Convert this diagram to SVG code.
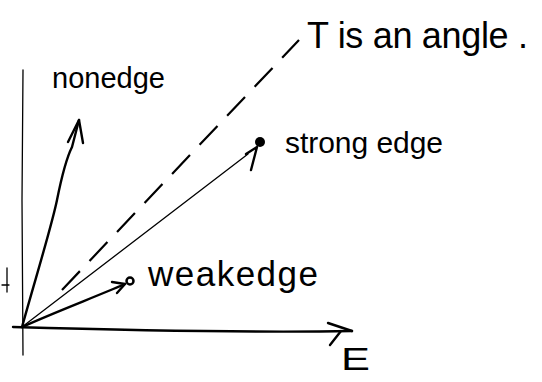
<svg xmlns="http://www.w3.org/2000/svg" width="542" height="382" viewBox="0 0 542 382">
<style>
.ln{fill:none;stroke:#000;stroke-width:2.4;stroke-linecap:round;stroke-linejoin:round}
.thin{fill:none;stroke:#000;stroke-width:1.3;stroke-linecap:round}
.dash{fill:none;stroke:#000;stroke-width:2.2;stroke-dasharray:26 14}
.t{font-family:"Liberation Sans",Arial,sans-serif;fill:#000}
</style>
<rect width="542" height="382" fill="#fff"/>
<g id="axes">
<path class="thin" d="M23,70 L22,200 L23,355"/>
<path class="ln" d="M13,327 C120,330 250,333 352,331"/>
<path class="ln" d="M328,323 L352,331 M341,331 L330,345"/>
<path class="thin" d="M7,268 L7,292 M2,285 L9,285"/>
</g>
<g id="connectors">
<path class="ln" d="M22,327 C35,280 52,225 57,200 C62,175 68,155 72,147 L79,120"/>
<path class="ln" d="M68,142 L79,120 L83,143"/>
<path class="dash" d="M62,290 L299,40"/>
<path class="thin" d="M22,327 L248,154"/>
<path class="ln" d="M246,154 L257,147 L251,170"/>
<path class="ln" d="M22,327 C55,312 95,297 125,284"/>
<path class="ln" d="M112,282 L125,284 L117,293"/>
</g>
<g id="nonedge"><text class="t" x="52" y="88" font-size="29" textLength="113">nonedge</text></g>
<g id="strongedge"><circle cx="260" cy="142" r="5"/><text class="t" x="285" y="153" font-size="30" textLength="158">strong edge</text></g>
<g id="weakedge"><circle cx="130" cy="281" r="3.5" fill="#fff" stroke="#000" stroke-width="2.5"/><text class="t" x="148" y="286" font-size="35" textLength="170">weakedge</text></g>
<g id="note"><text class="t" x="307" y="48" font-size="36" textLength="221">T is an angle .</text></g>
<g id="elabel"><text class="t" font-size="31" transform="translate(341,370) scale(1.4,1)">E</text></g>
</svg>
